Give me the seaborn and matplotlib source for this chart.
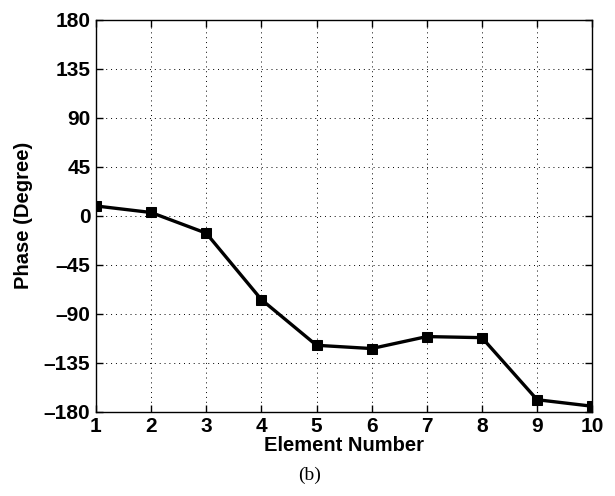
import matplotlib
matplotlib.use("Agg")
import matplotlib.pyplot as plt
import seaborn as sns
import pandas as pd

# Phase of each array element
element = [1, 2, 3, 4, 5, 6, 7, 8, 9, 10]
phase_deg = [9, 3, -16, -77, -119, -122, -111, -112, -169, -175]
y_ticks = [-180, -135, -90, -45, 0, 45, 90, 135, 180]

sns.set_theme(style="white")
plt.rcParams["font.family"] = ["Liberation Sans", "DejaVu Sans"]
plt.rcParams["text.color"] = "black"
plt.rcParams["axes.labelcolor"] = "black"

df = pd.DataFrame({"Element": element, "Phase": phase_deg})

fig = plt.figure(figsize=(6.15, 4.96), dpi=100)
ax = fig.add_axes([0.156, 0.170, 0.807, 0.790])

sns.lineplot(data=df, x="Element", y="Phase", ax=ax, color="black",
             linewidth=2.4, marker="s", markersize=7,
             markerfacecolor="black", markeredgecolor="black")

ax.set_xlim(1, 10)
ax.set_ylim(-180, 180)
ax.set_xticks(element)
ax.set_yticks(y_ticks)
ax.set_xticklabels([str(v) for v in element], fontsize=15, fontweight="bold")
ax.set_yticklabels([str(v).replace("-", "\u2013") for v in y_ticks],
                   fontsize=15, fontweight="bold")

ax.grid(True, color="black", linestyle=(0, (1, 4)), linewidth=0.7)
ax.tick_params(direction="in", length=5, width=1, top=True, right=True,
               bottom=True, left=True, pad=4, colors="black",
               labelcolor="black")
for side in ["left", "right", "top", "bottom"]:
    ax.spines[side].set_visible(True)
    ax.spines[side].set_color("black")
    ax.spines[side].set_linewidth(1.0)

ax.set_xlabel("Element Number", fontsize=14.5, fontweight="bold", labelpad=0)
ax.set_ylabel("Phase (Degree)", fontsize=14.5, fontweight="bold", labelpad=8)

fig.text(0.503, 0.042, "(b)", ha="center", va="center", fontsize=14,
         family=["Liberation Serif", "DejaVu Serif"])

fig.savefig("out.png", dpi=100, facecolor="white")
